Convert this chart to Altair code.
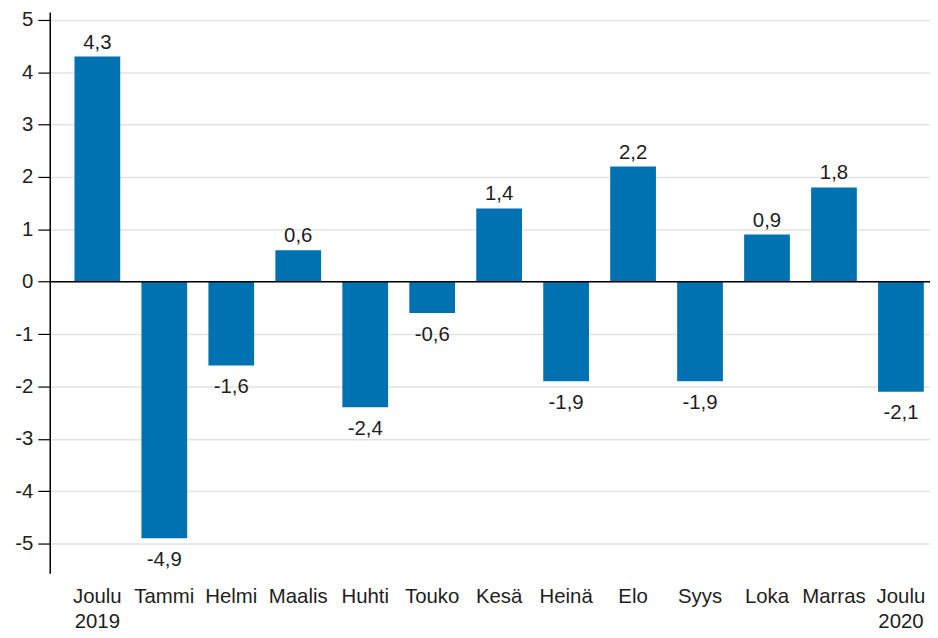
import altair as alt
import pandas as pd

months = ["Joulu 2019", "Tammi", "Helmi", "Maalis", "Huhti", "Touko", "Kesä",
          "Heinä", "Elo", "Syys", "Loka", "Marras", "Joulu 2020"]
values = [4.3, -4.9, -1.6, 0.6, -2.4, -0.6, 1.4, -1.9, 2.2, -1.9, 0.9, 1.8, -2.1]
y_ticks = [-5, -4, -3, -2, -1, 0, 1, 2, 3, 4, 5]

df = pd.DataFrame({
    "month": months,
    "value": values,
    "label": [f"{v:.1f}".replace(".", ",") for v in values],
})

FONT = "Liberation Sans"
FS = 20.5
BLUE = "#0072B2"
TXT = "#1e1e1e"

x_enc = alt.X("month:N", sort=months, title=None,
              scale=alt.Scale(paddingInner=0.317, paddingOuter=0.231, align=0.8),
              axis=alt.Axis(domain=False, ticks=False, labelAngle=0, labelPadding=13,
                            labelFont=FONT, labelFontSize=FS, labelColor=TXT,
                            labelLineHeight=26, labelExpr="split(datum.label, ' ')"))
y_scale = alt.Scale(domain=[-5.57, 5.15], nice=False, zero=False)

base = alt.Chart(df)

bars = base.mark_bar(color=BLUE).encode(
    x=x_enc,
    y=alt.Y("value:Q", scale=y_scale, title=None,
            axis=alt.Axis(values=y_ticks, labelExpr="toString(datum.value)",
                          domain=True, domainColor="#000000", domainWidth=1.5,
                          ticks=True, tickColor="#000000", tickSize=12, tickWidth=1.2,
                          labelPadding=5, labelFont=FONT, labelFontSize=FS, labelColor=TXT,
                          grid=True, gridColor="#e3e3e3", gridWidth=1.5)),
    y2=alt.datum(0),
)

pos = base.transform_filter("datum.value >= 0").mark_text(
    font=FONT, fontSize=FS, color=TXT, baseline="alphabetic", dy=-8
).encode(x=alt.X("month:N", sort=months), y=alt.Y("value:Q", scale=y_scale), text="label:N")

neg = base.transform_filter("datum.value < 0").mark_text(
    font=FONT, fontSize=FS, color=TXT, baseline="top", dy=12
).encode(x=alt.X("month:N", sort=months), y=alt.Y("value:Q", scale=y_scale), text="label:N")

zero = alt.Chart(pd.DataFrame({"z": [0]})).mark_rule(color="#000000", strokeWidth=1.5).encode(
    y=alt.Y("z:Q", scale=y_scale)
)

chart = alt.layer(bars, zero, pos, neg).properties(
    width=886, height=565,
    autosize=alt.AutoSizeParams(type="none"),
    padding={"left": 42, "top": 2, "right": 0, "bottom": 60},
).configure_view(stroke=None)

chart.save("out.html", embed_options={"renderer": "svg", "actions": False})
